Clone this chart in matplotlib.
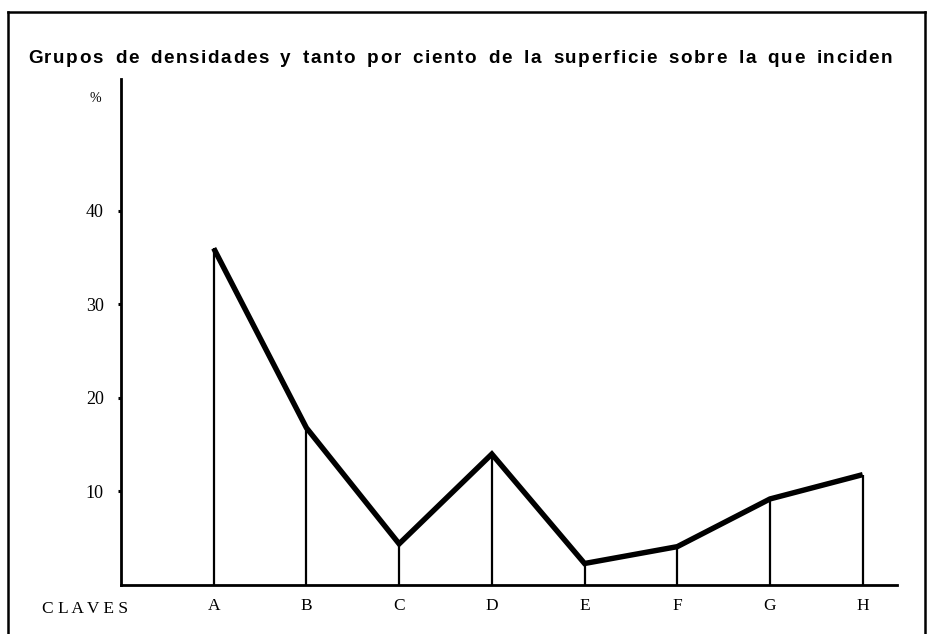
import numpy as np
import matplotlib
matplotlib.use('Agg')
import matplotlib.pyplot as plt
from matplotlib.lines import Line2D

claves = ['A', 'B', 'C', 'D', 'E', 'F', 'G', 'H']
porcentaje = [36, 16.8, 4.4, 14, 2.3, 4.1, 9.2, 11.8]
y_ticks = [10, 20, 30, 40]
titulo = 'Grupos de densidades y tanto por ciento de la superficie sobre la que inciden'

W, H = 929, 634
fig = plt.figure(figsize=(W / 100, H / 100), dpi=100)
ax = fig.add_axes([121 / W, 49 / H, (897 - 121) / W, (585 - 79) / H])

x = np.arange(1, len(claves) + 1)

# vertical lines from the axis up to each point
ax.vlines(x, 0, porcentaje, colors='black', linewidth=1.6)
ax.plot(x, porcentaje, color='black', linewidth=3.9, solid_joinstyle='miter', solid_capstyle='butt')

ax.set_xlim(0, 8.37)
ax.set_ylim(0, 54.1)
ax.set_xticks(x)
ax.set_xticklabels(claves, family='Liberation Serif', fontsize=12.5)
ax.set_yticks(y_ticks)
ax.set_yticklabels([str(v) for v in y_ticks], family='Liberation Serif', fontsize=13)
ax.tick_params(axis='x', length=0, pad=9)
ax.tick_params(axis='y', direction='out', length=2.5, width=2.2, pad=10)

for s in ['top', 'right']:
    ax.spines[s].set_visible(False)
ax.spines['left'].set_linewidth(2)
ax.spines['bottom'].set_linewidth(2)

ax.text(-0.39, -0.032, 'C L A V E S', transform=ax.get_xaxis_transform(),
        ha='center', va='top', family='Liberation Serif', fontsize=12.5)
fig.text(95 / W, 1 - 98 / H, '%', ha='center', va='center', family='Liberation Serif', fontsize=10)

# title: spread letter by letter so it spans the same width as the original
renderer = fig.canvas.get_renderer()
x0, x1, ty = 28, 892, 1 - 63 / H
fs = 13.6
palabras = titulo.split(' ')
anchos = []
for p in palabras:
    fila = []
    for ch in p:
        t = fig.text(0, 0, ch, fontsize=fs, fontweight='bold', family='Liberation Sans')
        fila.append(t.get_window_extent(renderer).width)
        t.remove()
    anchos.append(fila)
track = 1.6
letras = sum(len(p) for p in palabras)
total = sum(sum(f) for f in anchos) + track * (letras - len(palabras))
gap = (x1 - x0 - total) / (len(palabras) - 1)
pos = x0
for p, fila in zip(palabras, anchos):
    for ch, w in zip(p, fila):
        fig.text(pos / W, ty, ch, ha='left', va='baseline', fontsize=fs,
                 fontweight='bold', family='Liberation Sans')
        pos += w + track
    pos += gap - track

# frame around the page
lado = dict(transform=fig.transFigure, color='black', linewidth=1.8)
fig.add_artist(Line2D([8 / W, 8 / W], [0, 1 - 12 / H], **lado))
fig.add_artist(Line2D([8 / W, 925 / W], [1 - 12 / H, 1 - 12 / H], **lado))
fig.add_artist(Line2D([925 / W, 925 / W], [0, 1 - 12 / H], **lado))

fig.savefig('out.png', dpi=100)
